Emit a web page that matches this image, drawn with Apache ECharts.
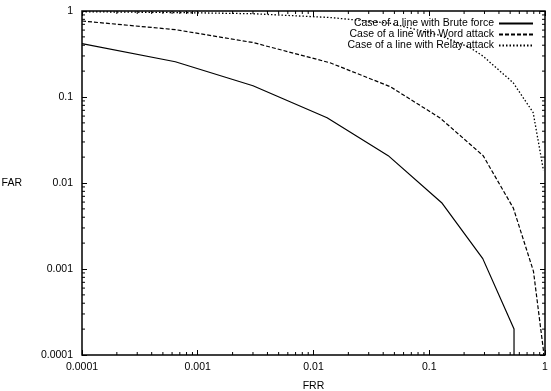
<!DOCTYPE html>
<html>
<head>
<meta charset="utf-8">
<style>
  html, body { margin: 0; padding: 0; background: #fff; }
  #chart { width: 551px; height: 391px; }
</style>
</head>
<body>
<div id="chart"></div>
<script src="https://cdn.jsdelivr.net/npm/echarts@6/dist/echarts.min.js"></script>
<script>
// FRR / FAR pairs
var bruteFRR = [0.0001, 0.00064, 0.003, 0.0131, 0.0442, 0.128, 0.29, 0.54, 0.54];
var bruteFAR = [0.417, 0.257, 0.135, 0.0574, 0.0208, 0.0059, 0.00132, 0.0002, 0.0001];

var wordFRR = [0.0001, 0.00064, 0.003, 0.0139, 0.046, 0.124, 0.292, 0.533, 0.795, 0.968, 0.975];
var wordFAR = [0.765, 0.607, 0.43, 0.25, 0.132, 0.057, 0.0208, 0.0051, 0.00094, 0.000115, 0.0001];

var relayFRR = [0.0001, 0.00064, 0.003, 0.0139, 0.046, 0.124, 0.226, 0.29, 0.53, 0.79, 0.97];
var relayFAR = [0.98, 0.96, 0.93, 0.84, 0.72, 0.52, 0.374, 0.3, 0.147, 0.066, 0.014];

var seriesNames = ['Case of a line with Brute force', 'Case of a line with Word attack', 'Case of a line with Relay attack'];
var axisMin = 0.0001, axisMax = 1;
var minorMult = [2, 3, 4, 5, 6, 7, 8, 9];
var decades = [0.0001, 0.001, 0.01, 0.1];

function pairs(xs, ys) {
  return xs.map(function (x, i) { return [x, ys[i]]; });
}

var minorTicks = [];
decades.forEach(function (d) {
  minorMult.forEach(function (m) { minorTicks.push([m * d, m * d]); });
});

var font = 'Liberation Sans, Arial, Helvetica, sans-serif';

function fmt(v) {
  return String(+(+v).toPrecision(1));
}

var chart = echarts.init(document.getElementById('chart'));

var baseAxis = {
  type: 'log',
  logBase: 10,
  min: axisMin,
  max: axisMax,
  splitLine: { show: false },
  axisLine: { show: false },
  axisTick: { show: true, inside: true, length: 5, lineStyle: { color: '#000', width: 1 } }
};

var option = {
  animation: false,
  backgroundColor: '#fff',
  grid: {
    left: 82, right: 6, top: 11, bottom: 36,
    outerBoundsMode: 'none',
    containLabel: false,
    show: true, borderColor: '#000', borderWidth: 1.5
  },
  legend: {
    orient: 'vertical',
    right: 12,
    top: 13,
    align: 'right',
    itemWidth: 34,
    itemHeight: 9,
    itemGap: 0,
    data: seriesNames,
    itemStyle: { opacity: 0 },
    textStyle: { fontFamily: font, fontSize: 10.5, color: '#000', lineHeight: 11 }
  },
  xAxis: [
    Object.assign({}, baseAxis, {
      position: 'bottom',
      name: 'FRR',
      nameLocation: 'middle',
      nameGap: 26,
      nameTextStyle: { fontFamily: font, fontSize: 10.5, color: '#000' },
      axisLabel: { fontFamily: font, fontSize: 10.5, color: '#000', margin: 7, formatter: fmt }
    }),
    Object.assign({}, baseAxis, { position: 'top', axisLabel: { show: false } })
  ],
  yAxis: [
    Object.assign({}, baseAxis, {
      position: 'left',
      name: 'FAR',
      nameLocation: 'middle',
      nameRotate: 0,
      nameGap: 60,
      nameTextStyle: { fontFamily: font, fontSize: 10.5, color: '#000' },
      axisLabel: { fontFamily: font, fontSize: 10.5, color: '#000', margin: 9, formatter: fmt }
    }),
    Object.assign({}, baseAxis, { position: 'right', axisLabel: { show: false } })
  ],
  series: [
    {
      name: seriesNames[0], type: 'line', data: pairs(bruteFRR, bruteFAR),
      showSymbol: false, symbol: 'none', clip: true,
      lineStyle: { color: '#000', width: 1.2, type: 'solid' }, itemStyle: { color: '#000' }
    },
    {
      name: seriesNames[1], type: 'line', data: pairs(wordFRR, wordFAR),
      showSymbol: false, symbol: 'none', clip: true,
      lineStyle: { color: '#000', width: 1.2, type: [4, 2] }, itemStyle: { color: '#000' }
    },
    {
      name: seriesNames[2], type: 'line', data: pairs(relayFRR, relayFAR),
      showSymbol: false, symbol: 'none', clip: true,
      lineStyle: { color: '#000', width: 1.3, type: [1.5, 2] }, itemStyle: { color: '#000' }
    },
    {
      // minor ticks on all four sides, pointing inwards
      type: 'custom',
      silent: true,
      clip: false,
      data: minorTicks,
      renderItem: function (params, api) {
        var v = api.value(0);
        var bottom = api.coord([v, axisMin]);
        var top = api.coord([v, axisMax]);
        var left = api.coord([axisMin, v]);
        var right = api.coord([axisMax, v]);
        var L = 3;
        var st = { stroke: '#000', lineWidth: 1 };
        return {
          type: 'group',
          children: [
            { type: 'line', shape: { x1: bottom[0], y1: bottom[1], x2: bottom[0], y2: bottom[1] - L }, style: st },
            { type: 'line', shape: { x1: top[0], y1: top[1], x2: top[0], y2: top[1] + L }, style: st },
            { type: 'line', shape: { x1: left[0], y1: left[1], x2: left[0] + L, y2: left[1] }, style: st },
            { type: 'line', shape: { x1: right[0], y1: right[1], x2: right[0] - L, y2: right[1] }, style: st }
          ]
        };
      }
    }
  ]
};

chart.setOption(option);
</script>
</body>
</html>
